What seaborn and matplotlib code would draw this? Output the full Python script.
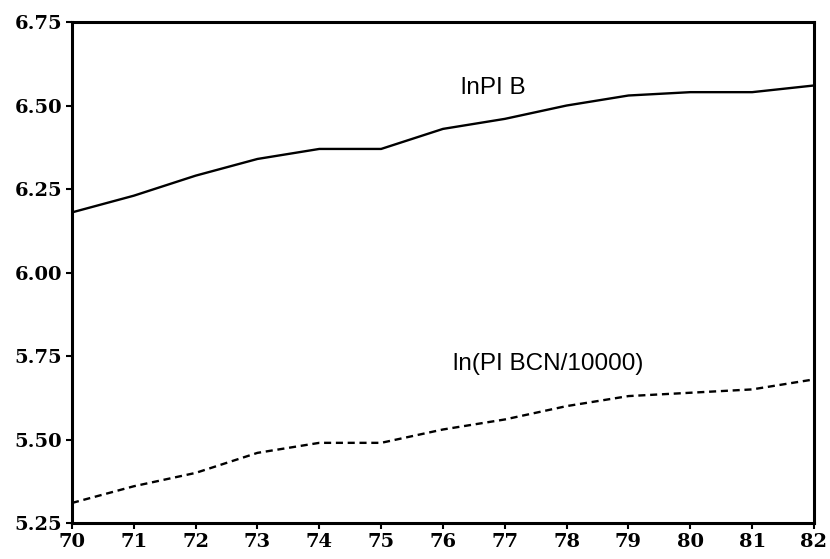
import matplotlib
matplotlib.use("Agg")
import matplotlib.pyplot as plt
import seaborn as sns
import pandas as pd

years = [70, 71, 72, 73, 74, 75, 76, 77, 78, 79, 80, 81, 82]
ln_pi_b = [6.18, 6.23, 6.29, 6.34, 6.37, 6.37, 6.43, 6.46, 6.50, 6.53, 6.54, 6.54, 6.56]
ln_pi_bcn = [5.31, 5.36, 5.40, 5.46, 5.49, 5.49, 5.53, 5.56, 5.60, 5.63, 5.64, 5.65, 5.68]
series_names = ["lnPI B", "ln(PI BCN/10000)"]
x_ticks = years
y_ticks = [5.25, 5.50, 5.75, 6.00, 6.25, 6.50, 6.75]

df = pd.DataFrame({
    "year": years * 2,
    "value": ln_pi_b + ln_pi_bcn,
    "series": [series_names[0]] * len(years) + [series_names[1]] * len(years),
})

sns.set_style("white")
fig = plt.figure(figsize=(8.30, 5.59), dpi=100)
ax = fig.add_axes([0.0867, 0.0644, 0.894, 0.8962])

sns.lineplot(data=df, x="year", y="value", hue="series", style="series",
             palette={series_names[0]: "black", series_names[1]: "black"},
             dashes={series_names[0]: "", series_names[1]: (3, 2)},
             linewidth=1.7, legend=False, ax=ax)

ax.set_xlim(70, 82)
ax.set_ylim(5.25, 6.75)
ax.set_xticks(x_ticks)
ax.set_xticklabels([str(t) for t in x_ticks])
ax.set_yticks(y_ticks)
ax.set_yticklabels([f"{t:.2f}" for t in y_ticks])
ax.set_xlabel("")
ax.set_ylabel("")

for s in ax.spines.values():
    s.set_visible(True)
    s.set_color("black")
    s.set_linewidth(2.2)

ax.tick_params(axis="both", direction="out", length=4, width=1.5, color="black",
               bottom=True, left=True, pad=3)
for lab in ax.get_xticklabels() + ax.get_yticklabels():
    lab.set_fontfamily(["DejaVu Serif"])
    lab.set_fontweight("bold")
    lab.set_fontsize(14)
    lab.set_color("black")

txt_font = ["Liberation Sans Narrow", "Liberation Sans", "DejaVu Sans"]
ax.text(76.29, 6.553, series_names[0], fontsize=17.5, family=txt_font,
        va="center", ha="left", color="black")
ax.text(76.17, 5.727, series_names[1], fontsize=17.5, family=txt_font,
        va="center", ha="left", color="black")

fig.savefig("out.png", dpi=100)
